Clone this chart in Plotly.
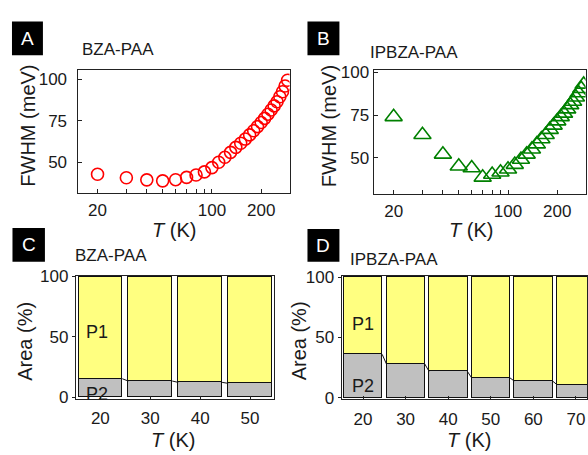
import plotly.graph_objects as go
import math

# ---------------- data ----------------
T_fwhm = [20, 30, 40, 50, 60, 70, 80, 90, 100, 110, 120, 130, 140, 150, 160, 170, 180, 190,
          200, 210, 220, 230, 240, 250, 260, 270, 280, 290]
fwhm_bza = [42.8, 40.7, 39.4, 38.8, 39.5, 40.9, 42.3, 44.2, 46.8, 50.0, 53.0, 56.0, 59.0, 61.5,
            64.0, 66.5, 69.0, 71.5, 74.0, 76.5, 79.0, 81.5, 84.0, 86.5, 89.5, 92.5, 96.0, 99.5]
fwhm_ipbza = [74.0, 63.5, 52.0, 45.0, 44.0, 38.5, 40.2, 41.5, 43.3, 46.0, 49.0, 52.0, 55.0, 58.0,
              61.0, 63.5, 66.5, 69.0, 71.5, 74.0, 76.0, 78.5, 81.0, 83.0, 85.5, 88.0, 90.5, 93.0]

T_bza_area = ["20", "30", "40", "50"]
p2_bza = [15.2, 13.3, 12.2, 11.4]
p1_bza = [100 - v for v in p2_bza]

T_ipbza_area = ["20", "30", "40", "50", "60", "70"]
p2_ipbza = [36.0, 28.0, 21.9, 16.5, 13.9, 11.0]
p1_ipbza = [100 - v for v in p2_ipbza]

log_tickvals = [20, 30, 40, 50, 60, 70, 80, 90, 100, 200]
log_ticktext = ["20", "", "", "", "", "", "", "", "100", "200"]

# ---------------- style ----------------
FONT = "Arial, Liberation Sans, sans-serif"
TXT = "#1a1a1a"
W, H = 588, 455
RED = "#ff0000"
GREEN = "#008000"
YELLOW = "#ffff80"
GRAY = "#c0c0c0"
BW_C, BW_D = 0.88, 0.90


def px(x):
    return x / W


def py(y):
    return 1 - y / H


fig = go.Figure()

# Panel A / B scatter
fig.add_trace(go.Scatter(x=T_fwhm, y=fwhm_bza, mode="markers", xaxis="x", yaxis="y",
                         marker=dict(symbol="circle-open", size=12, color=RED,
                                     line=dict(width=1.6, color=RED)),
                         showlegend=False))
fig.add_trace(go.Scatter(x=T_fwhm, y=fwhm_ipbza, mode="markers", xaxis="x2", yaxis="y2",
                         marker=dict(symbol="triangle-up-open", size=15, color=GREEN,
                                     line=dict(width=1.6, color=GREEN)),
                         showlegend=False))

# Panel C / D stacked bars
def add_stack(xa, ya, p2, p1, width):
    idx = list(range(len(p2)))
    fig.add_trace(go.Bar(x=idx, y=p2, width=width, xaxis=xa, yaxis=ya, name="P2",
                         marker=dict(color=GRAY, line=dict(color="#111", width=1)),
                         showlegend=False))
    fig.add_trace(go.Bar(x=idx, y=p1, width=width, xaxis=xa, yaxis=ya, name="P1",
                         marker=dict(color=YELLOW, line=dict(color="#111", width=1)),
                         showlegend=False))
    cx, cy = [], []
    for i in range(len(p2) - 1):
        cx += [i + width / 2, i + 1 - width / 2, None]
        cy += [p2[i], p2[i + 1], None]
    fig.add_trace(go.Scatter(x=cx, y=cy, mode="lines", xaxis=xa, yaxis=ya,
                             line=dict(color="#111", width=1), showlegend=False,
                             hoverinfo="skip"))


add_stack("x3", "y3", p2_bza, p1_bza, BW_C)
add_stack("x4", "y4", p2_ipbza, p1_ipbza, BW_D)

common = dict(showline=True, mirror=True, linecolor="#222", linewidth=1.2, showgrid=False,
              zeroline=False, tickfont=dict(family=FONT, size=17, color=TXT),
              tickcolor="#222", tickwidth=1)

fig.update_layout(
    width=W, height=H, margin=dict(l=0, r=0, t=0, b=0),
    paper_bgcolor="white", plot_bgcolor="white", barmode="stack", bargap=0,
    font=dict(family=FONT, size=17, color=TXT),
    xaxis=dict(common, type="log", domain=[px(77.7), px(290)],
               range=[math.log10(15.1), math.log10(298)], anchor="y",
               tickvals=log_tickvals, ticktext=log_ticktext, ticks="inside", ticklen=4,
               ticklabelstandoff=2),
    yaxis=dict(common, domain=[py(191.7), py(64)], range=[31.5, 105.8], anchor="x",
               tickvals=[50, 75, 100], ticks="inside", ticklen=4, ticklabelstandoff=6),
    xaxis2=dict(common, type="log", domain=[px(374.3), px(586.6)],
                range=[math.log10(15.1), math.log10(298)], anchor="y2",
                tickvals=log_tickvals, ticktext=log_ticktext, ticks="inside", ticklen=4,
                ticklabelstandoff=2),
    yaxis2=dict(common, domain=[py(192.7), py(64)], range=[28.8, 101.6], anchor="x2",
                tickvals=[50, 75, 100], ticks="inside", ticklen=4, ticklabelstandoff=0),
    xaxis3=dict(common, domain=[px(76), px(274)], range=[-0.49, 3.47], anchor="y3",
                tickvals=list(range(len(T_bza_area))), ticktext=T_bza_area,
                ticks="inside", ticklen=3, ticklabelstandoff=4),
    yaxis3=dict(common, domain=[py(405), py(277.7)], range=[-1.4, 100.5], anchor="x3",
                tickvals=[0, 50, 100], ticks="outside", ticklen=3, ticklabelstandoff=0),
    xaxis4=dict(common, domain=[px(342.3), 1.0], range=[-0.5, 5.26], anchor="y4",
                tickvals=list(range(len(T_ipbza_area))), ticktext=T_ipbza_area,
                ticks="inside", ticklen=3, ticklabelstandoff=4),
    yaxis4=dict(common, domain=[py(405.7), py(277.7)], range=[-1.4, 101], anchor="x4",
                tickvals=[0, 50, 100], ticks="outside", ticklen=3, ticklabelstandoff=0),
)

ann = []
shapes = []

# panel letter boxes
for letter, (x0, y0, x1, y1) in {"A": (12, 14, 43, 49), "B": (308, 14, 340, 49),
                                  "C": (12.5, 228, 45, 263), "D": (308, 229, 340, 263)}.items():
    shapes.append(dict(type="rect", xref="paper", yref="paper", x0=px(x0), x1=px(x1),
                       y0=py(y1), y1=py(y0), fillcolor="black", line=dict(width=0)))
    ann.append(dict(text=letter, xref="paper", yref="paper", x=px((x0 + x1) / 2),
                    y=py((y0 + y1) / 2), showarrow=False, xanchor="center", yanchor="middle",
                    font=dict(family=FONT, size=19, color="white")))

# sample titles
for t, (x, y) in [("BZA-PAA", (80, 43)), ("IPBZA-PAA", (369, 46)),
                  ("BZA-PAA", (72.7, 257)), ("IPBZA-PAA", (348.3, 260.5))]:
    ann.append(dict(text=t, xref="paper", yref="paper", x=px(x), y=py(y), showarrow=False,
                    xanchor="left", yanchor="middle", font=dict(family=FONT, size=17, color=TXT)))

# axis titles
for t, (x, y), rot in [("FWHM (meV)", (28, 122), -90), ("FWHM (meV)", (329, 122), -90),
                       ("<i>T</i> (K)", (174, 230), 0), ("<i>T</i> (K)", (472, 230), 0),
                       ("Area (%)", (25, 345), -90), ("Area (%)", (299, 345), -90),
                       ("<i>T</i> (K)", (173, 448), 0), ("<i>T</i> (K)", (470, 448), 0)]:
    ann.append(dict(text=t, xref="paper", yref="paper", x=px(x), y=py(y), showarrow=False,
                    xanchor="center", yanchor="middle", textangle=rot,
                    font=dict(family=FONT, size=20, color=TXT)))

# P1 / P2 labels
for t, xr, yr, yv, xs in [("P1", "x3", "y3", 54, -3), ("P2", "x3", "y3", 2.5, -3),
                          ("P1", "x4", "y4", 61.5, 0), ("P2", "x4", "y4", 10, 0)]:
    ann.append(dict(text=t, xref=xr, yref=yr, x=0, y=yv, xshift=xs, showarrow=False,
                    xanchor="center", yanchor="middle",
                    font=dict(family=FONT, size=18, color=TXT)))

fig.update_layout(annotations=ann, shapes=shapes)
fig.write_html("out.html")
